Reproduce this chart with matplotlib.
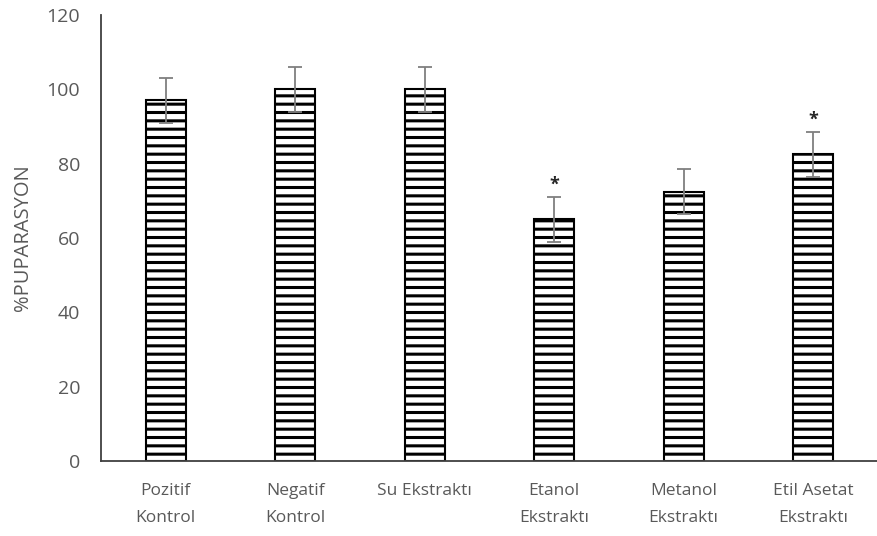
import matplotlib
matplotlib.use("Agg")
import matplotlib.pyplot as plt

categories = ["Pozitif\nKontrol", "Negatif\nKontrol", "Su Ekstraktı", "Etanol\nEkstraktı", "Metanol\nEkstraktı", "Etil Asetat\nEkstraktı"]
values = [97, 100, 100, 65, 72.5, 82.5]
errors = [6, 6, 6, 6, 6, 6]
stars = ["", "", "", "*", "", "*"]

plt.rcParams['font.family'] = ['Open Sans', 'DejaVu Sans']
plt.rcParams['hatch.linewidth'] = 2.2
plt.rcParams['hatch.color'] = 'black'

fig = plt.figure(figsize=(8.78, 5.36), dpi=100)
ax = fig.add_axes([0.115, 0.14, 0.885, 0.832])
x = list(range(len(categories)))
ax.bar(x, values, width=0.31, color='white', edgecolor='black', linewidth=1.5, hatch='--', zorder=2)
ax.errorbar(x, values, yerr=errors, fmt='none', ecolor='#7f7f7f', elinewidth=1.3, capsize=4.7, capthick=1.3, zorder=3)
for xi, v, e, s in zip(x, values, errors, stars):
    if s:
        ax.text(xi, v + e + 3.2, s, ha='center', va='center', fontsize=13, fontweight='bold', color='#262626')

ax.set_xlim(-0.5, 5.5)
ax.set_ylim(0, 120)
ax.set_yticks(range(0, 121, 20))
ax.set_xticks(x)
ax.set_xticklabels(categories, fontsize=12.5, color='#595959', linespacing=1.9)
ax.tick_params(axis='y', length=0, pad=15, labelsize=14, labelcolor='#595959')
ax.tick_params(axis='x', length=0, pad=16)
for sp in ['top', 'right']:
    ax.spines[sp].set_visible(False)
for sp in ['left', 'bottom']:
    ax.spines[sp].set_color('#404040')
    ax.spines[sp].set_linewidth(1.3)
ax.set_ylabel('%PUPARASYON', fontsize=14.5, color='#595959', labelpad=10)
fig.savefig('out.png', dpi=100)
